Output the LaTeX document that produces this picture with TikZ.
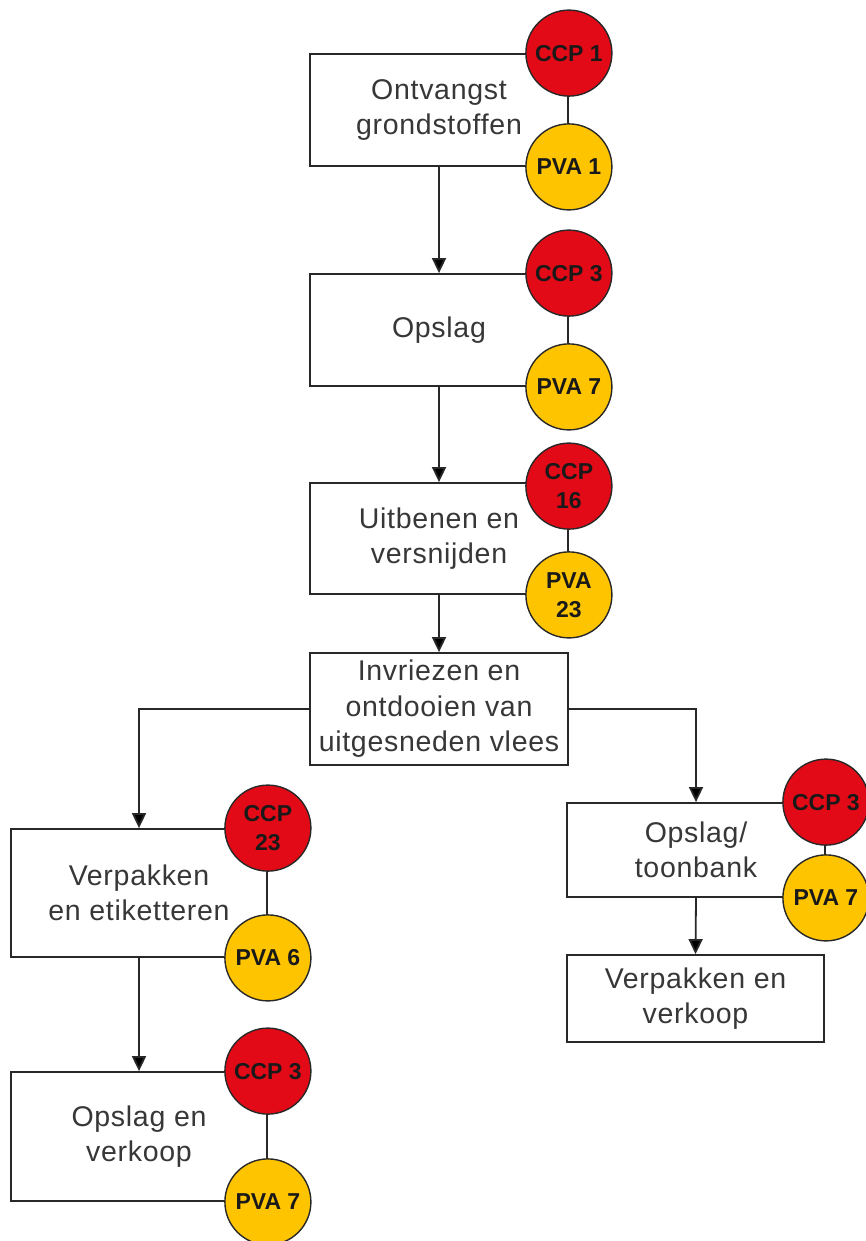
\documentclass[tikz,border=0pt]{standalone}
\usepackage{fontspec}
\setmainfont{Liberation Sans}
\newfontfamily\boxfont[LetterSpace=2.5]{Liberation Sans}
\usetikzlibrary{arrows.meta}
\definecolor{ccpred}{RGB}{226,10,22}
\definecolor{pvayel}{RGB}{255,196,0}
\definecolor{linegray}{RGB}{40,40,40}
\definecolor{txtgray}{RGB}{55,55,55}
\tikzset{
  stepbox/.style={draw=linegray, line width=1.8pt, fill=white, rectangle, inner sep=0pt, align=center,
    text=txtgray, font=\boxfont\fontsize{28.5}{35.5}\selectfont},
  ccp/.style={circle, draw=linegray, line width=1.4pt, fill=ccpred, minimum size=86pt, inner sep=0pt,
    align=center, font=\bfseries\fontsize{23}{29}\selectfont, text=black!90},
  pva/.style={ccp, fill=pvayel},
  flow/.style={draw=linegray, line width=1.8pt, -{Triangle[length=15pt,width=14pt,fill=black]}}
}
\begin{document}
\begin{tikzpicture}[x=1pt,y=-1pt]
\useasboundingbox (0,0) rectangle (866,1241);
\fill[white] (0,0) rectangle (866,1241);
% boxes
\node[stepbox, minimum width=258pt, minimum height=112pt] (b1) at (439,110) {Ontvangst\\grondstoffen};
\node[stepbox, minimum width=258pt, minimum height=112pt] (b2) at (439,330) {Opslag};
\node[stepbox, minimum width=258pt, minimum height=111pt] (b3) at (439,538.5) {Uitbenen en\\versnijden};
\node[stepbox, minimum width=258pt, minimum height=112pt] (b4) at (439,709) {Invriezen en\\ontdooien van\\uitgesneden vlees};
\node[stepbox, minimum width=256pt, minimum height=128pt] (b5) at (139,893) {Verpakken\\en etiketteren};
\node[stepbox, minimum width=256pt, minimum height=129pt] (b6) at (139,1136.5) {Opslag en\\verkoop};
\node[stepbox, minimum width=258pt, minimum height=94pt] (b7) at (696,850) {Opslag/\\toonbank};
\node[stepbox, minimum width=257pt, minimum height=87pt] (b8) at (695.5,998.5) {Verpakken en\\verkoop};
% connectors
\draw[flow] (b1.south) -- (b2.north);
\draw[flow] (b2.south) -- (b3.north);
\draw[flow] (b3.south) -- (b4.north);
\draw[flow] (b4.west) -| (b5.north);
\draw[flow] (b4.east) -| (b7.north);
\draw[flow] (b5.south) -- (b6.north);
\draw[flow] (b7.south) -- (b8.north);
% circles
\node[ccp] (c1) at (b1.north east) {CCP 1};
\node[pva] (p1) at (b1.south east) {PVA 1};
\node[ccp] (c2) at (b2.north east) {CCP 3};
\node[pva] (p2) at (b2.south east) {PVA 7};
\node[ccp] (c3) at ([yshift=-4pt]b3.north east) {CCP\\16};
\node[pva] (p3) at (b3.south east) {PVA\\23};
\node[ccp] (c5) at (b5.north east) {CCP\\23};
\node[pva] (p5) at (b5.south east) {PVA 6};
\node[ccp] (c6) at (b6.north east) {CCP 3};
\node[pva] (p6) at (b6.south east) {PVA 7};
\node[ccp] (c7) at (b7.north east) {CCP 3};
\node[pva] (p7) at (b7.south east) {PVA 7};
\end{tikzpicture}
\end{document}
